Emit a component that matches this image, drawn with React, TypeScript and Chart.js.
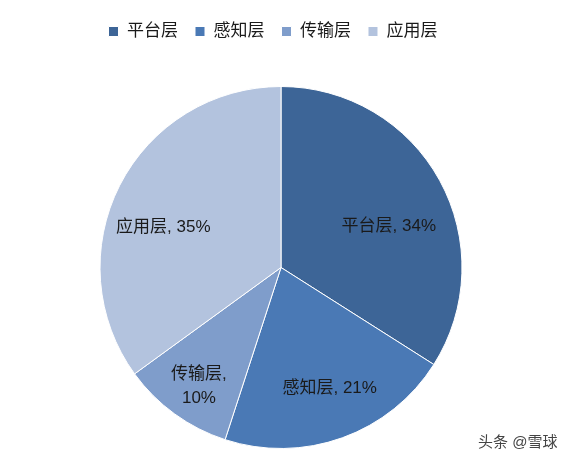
import React, { useEffect, useRef } from 'react';
import { Chart, registerables } from 'chart.js';

Chart.register(...registerables);

const layers = ['平台层', '感知层', '传输层', '应用层'];
const shares = [34, 21, 10, 35];
const sliceColors = ['#3D6597', '#4A79B5', '#7F9DCB', '#B3C3DE'];

const FONT = '"Liberation Sans", "Noto Sans CJK SC", sans-serif';

// push the legend down so the pie starts where the reference has it
const legendSpacer = {
  id: 'legendSpacer',
  beforeInit(chart: any) {
    const fit = chart.legend.fit;
    chart.legend.fit = function () {
      fit.bind(chart.legend)();
      this.height = 80;
    };
  },
  afterLayout(chart: any) {
    chart.legend.left -= 8;
    chart.legend.right -= 8;
  },
};

// small hand nudges so labels sit like Excel's "best fit"
const labelNudge = [
  [0, 18],
  [7, 5],
  [2, 3],
  [-8, 16],
];

// category + percent written inside each slice
const sliceLabels = {
  id: 'sliceLabels',
  afterDatasetsDraw(chart: any) {
    const ctx = chart.ctx;
    const meta = chart.getDatasetMeta(0);
    ctx.save();
    ctx.font = `17px ${FONT}`;
    ctx.fillStyle = '#1a1a1a';
    ctx.textAlign = 'center';
    ctx.textBaseline = 'middle';
    meta.data.forEach((arc: any, i: number) => {
      const { x, y, startAngle, endAngle, outerRadius } = arc.getProps(
        ['x', 'y', 'startAngle', 'endAngle', 'outerRadius'],
        true
      );
      const mid = (startAngle + endAngle) / 2;
      const small = shares[i] < 15;
      const f = small ? 0.79 : 0.68;
      const lx = x + Math.cos(mid) * outerRadius * f + labelNudge[i][0];
      const ly = y + Math.sin(mid) * outerRadius * f + labelNudge[i][1];
      if (small) {
        ctx.fillText(`${layers[i]},`, lx, ly - 12);
        ctx.fillText(`${shares[i]}%`, lx, ly + 12);
      } else {
        ctx.fillText(`${layers[i]}, ${shares[i]}%`, lx, ly);
      }
    });
    ctx.restore();
  },
};

const App: React.FC = () => {
  const canvasRef = useRef<HTMLCanvasElement>(null);

  useEffect(() => {
    document.body.style.margin = '0';
    if (!canvasRef.current) return;
    const chart = new Chart(canvasRef.current, {
      type: 'pie',
      data: {
        labels: layers,
        datasets: [
          {
            data: shares,
            backgroundColor: sliceColors,
            borderColor: '#ffffff',
            borderWidth: 1,
          },
        ],
      },
      options: {
        responsive: false,
        animation: false,
        layout: { padding: { top: 6, bottom: 13, left: 0, right: 4 } },
        plugins: {
          legend: {
            position: 'top',
            labels: {
              boxWidth: 10,
              boxHeight: 10,
              padding: 17,
              color: '#1a1a1a',
              font: { size: 17, family: FONT },
            },
          },
          tooltip: { enabled: false },
        },
      },
      plugins: [legendSpacer, sliceLabels],
    });
    return () => chart.destroy();
  }, []);

  return (
    <div style={{ position: 'relative', width: 566, height: 462, background: '#fff' }}>
      <canvas ref={canvasRef} width={566} height={462} />
      <div
        style={{
          position: 'absolute',
          left: 478,
          top: 430,
          fontFamily: FONT,
          fontSize: 15,
          color: '#444',
          textShadow: '0 0 2px #fff',
        }}
      >
        头条 @雪球
      </div>
    </div>
  );
};

export default App;
